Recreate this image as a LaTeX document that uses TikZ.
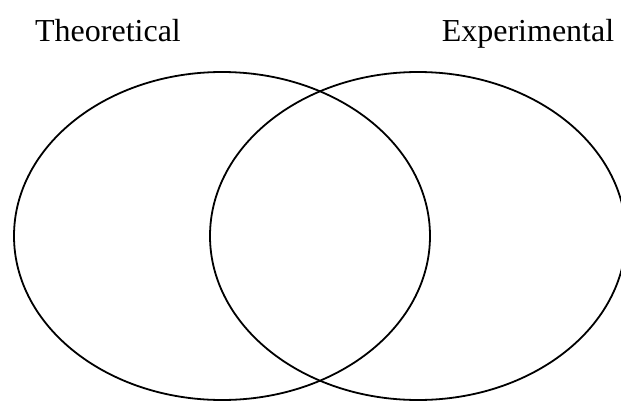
\documentclass[tikz,border=0pt]{standalone}
\usepackage{fontspec}
\setmainfont{Liberation Serif}
\usepackage{tikz}
\usetikzlibrary{shapes.geometric}

\begin{document}
\begin{tikzpicture}[x=1pt, y=1pt,
  venn/.style={ellipse, draw, line width=1.8pt, minimum width=416pt, minimum height=328pt, inner sep=0pt},
  label/.style={anchor=base, inner sep=0pt, font=\fontsize{32}{38}\selectfont}]
  \useasboundingbox (0,0) rectangle (621,400);
  \clip (0,0) rectangle (621,400);

  \node[venn] (theoryset) at (222,164) {};
  \node[venn] (experimentset) at (418,164) {};

  \node[label] (theory) at (108,359) {Theoretical};
  \node[label] (experiment) at (528,359) {Experimental};
\end{tikzpicture}
\end{document}
